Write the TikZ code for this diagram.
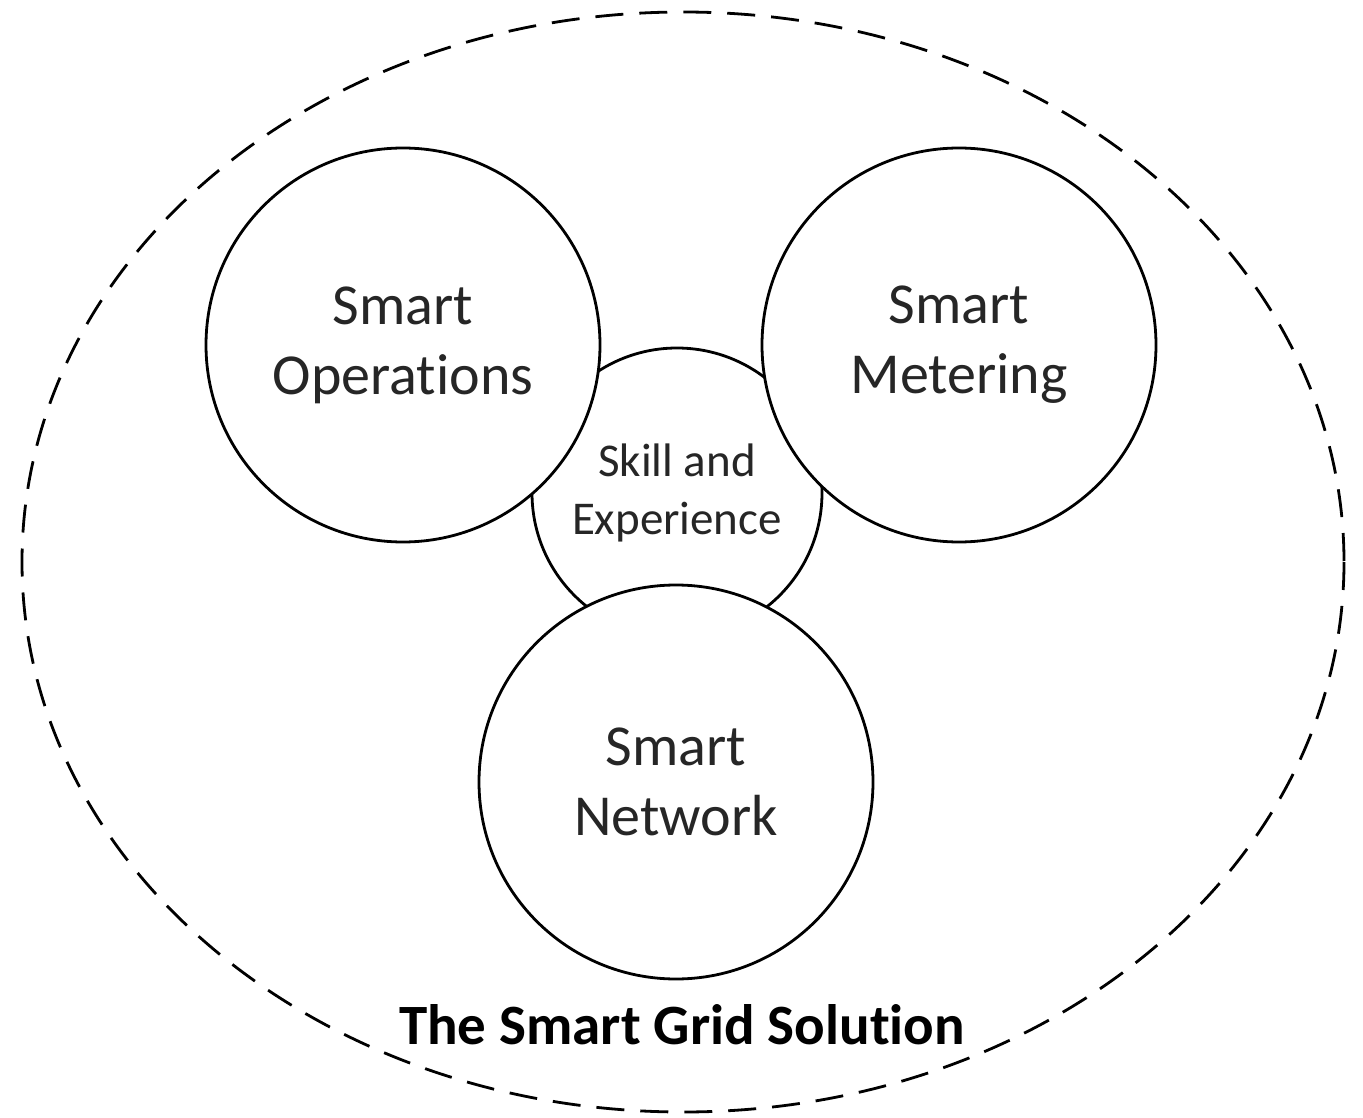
\documentclass[tikz,border=0pt]{standalone}
\usepackage{fontspec}
\setmainfont[RawFeature=-liga]{Carlito}
\begin{document}
\begin{tikzpicture}[x=1pt,y=-1pt,
  bigcirc/.style={circle,draw=black,line width=2.8pt,fill=white,minimum size=394pt,inner sep=0pt,align=center,font=\fontsize{58}{70}\selectfont,text=black!85},
  smallcirc/.style={circle,draw=black,line width=2.8pt,fill=white,minimum size=290pt,inner sep=0pt,align=center,font=\fontsize{47}{58}\selectfont,text=black!85},
  outer/.style={draw=black,line width=2.8pt,dash pattern=on 28pt off 16pt}]
\useasboundingbox (0,0) rectangle (1363,1118);
\draw[outer] (683,562) ellipse [x radius=661, y radius=550];
\node[smallcirc] (skill) at (677,493) {Skill and\\Experience};
\node[bigcirc] (ops) at (403,345) {Smart\\Operations};
\node[bigcirc] (met) at (959,345) {Smart\\Metering};
\node[bigcirc] (net) at (676,782) {Smart\\Network};
\node[fill=white,inner sep=1pt,font=\bfseries\fontsize{57}{68}\selectfont,text=black] (title) at (682,1025) {The Smart Grid Solution};
\end{tikzpicture}
\end{document}
